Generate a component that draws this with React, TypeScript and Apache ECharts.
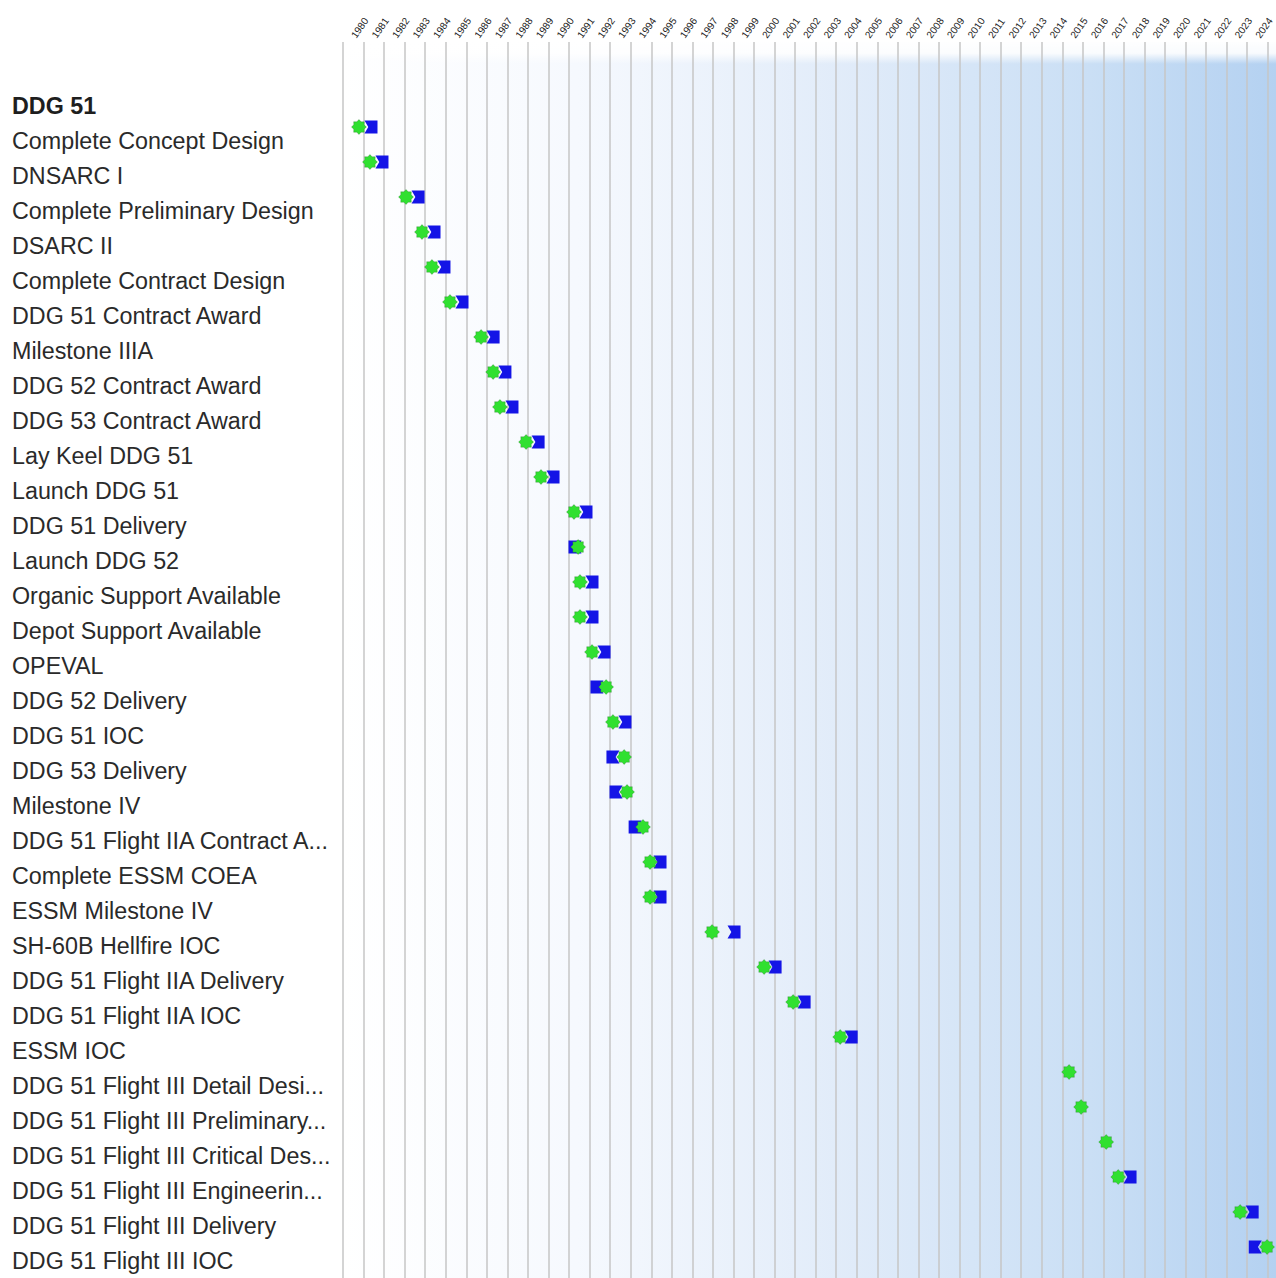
import React, { useEffect, useRef } from "react";
import * as echarts from "echarts";

const yearLabels = [
  "1980", "1981", "1982", "1983", "1984", "1985", "1986", "1987", "1988", "1989",
  "1990", "1991", "1992", "1993", "1994", "1995", "1996", "1997", "1998", "1999",
  "2000", "2001", "2002", "2003", "2004", "2005", "2006", "2007", "2008", "2009",
  "2010", "2011", "2012", "2013", "2014", "2015", "2016", "2017", "2018", "2019",
  "2020", "2021", "2022", "2023", "2024",
];

const programName = "DDG 51";

const milestones = [
  "Complete Concept Design",
  "DNSARC I",
  "Complete Preliminary Design",
  "DSARC II",
  "Complete Contract Design",
  "DDG 51 Contract Award",
  "Milestone IIIA",
  "DDG 52 Contract Award",
  "DDG 53 Contract Award",
  "Lay Keel DDG 51",
  "Launch DDG 51",
  "DDG 51 Delivery",
  "Launch DDG 52",
  "Organic Support Available",
  "Depot Support Available",
  "OPEVAL",
  "DDG 52 Delivery",
  "DDG 51 IOC",
  "DDG 53 Delivery",
  "Milestone IV",
  "DDG 51 Flight IIA Contract A...",
  "Complete ESSM COEA",
  "ESSM Milestone IV",
  "SH-60B Hellfire IOC",
  "DDG 51 Flight IIA Delivery",
  "DDG 51 Flight IIA IOC",
  "ESSM IOC",
  "DDG 51 Flight III Detail Desi...",
  "DDG 51 Flight III Preliminary...",
  "DDG 51 Flight III Critical Des...",
  "DDG 51 Flight III Engineerin...",
  "DDG 51 Flight III Delivery",
  "DDG 51 Flight III IOC",
];

// green markers (planned / threshold dates)
const plannedDates = [
  1980.77, 1981.3, 1983.04, 1983.81, 1984.29, 1985.16, 1986.66, 1987.24, 1987.57, 1988.83,
  1989.55, 1991.14, 1991.34, 1991.43, 1991.43, 1992.01, 1992.69, 1993.02, 1993.56, 1993.7,
  1994.47, 1994.81, 1994.81, 1997.8, 2000.31, 2001.71, 2003.98, 2015.02, 2015.6, 2016.81,
  2017.39, 2023.27, 2024.57,
];

// blue markers (actual / current estimate dates)
const actualDates: (number | null)[] = [
  1981.35, 1981.88, 1983.62, 1984.39, 1984.87, 1985.74, 1987.24, 1987.81, 1988.15, 1989.41,
  1990.13, 1991.72, 1991.19, 1992.01, 1992.01, 1992.59, 1992.25, 1993.6, 1993.02, 1993.17,
  1994.09, 1995.29, 1995.29, 1998.86, 2000.84, 2002.24, 2004.51, null, null, null,
  2017.96, 2023.85, 2024.0,
];

const GREEN_STAR =
  "path://M15,7.5 L12.67,9.64 L12.8,12.8 L9.64,12.67 L7.5,15 L5.36,12.67 L2.2,12.8 L2.33,9.64 L0,7.5 L2.33,5.36 L2.2,2.2 L5.36,2.33 L7.5,0 L9.64,2.33 L12.8,2.2 L12.67,5.36 Z";
const BLUE_NOTCH_LEFT = "path://M0,0 L12,0 L12,13 L0,13 L3.5,6.5 Z";
const BLUE_NOTCH_RIGHT = "path://M0,0 L12,0 L8.5,6.5 L12,13 L0,13 Z";

export default function App() {
  const ref = useRef<HTMLDivElement>(null);

  useEffect(() => {
    if (!ref.current) return;
    const chart = echarts.init(ref.current, null, { renderer: "svg" });

    const categories = [programName, ...milestones];

    const blueData: any[] = [];
    const greenData: any[] = [];
    milestones.forEach((m, i) => {
      greenData.push([plannedDates[i], m]);
      const a = actualDates[i];
      if (a !== null) {
        blueData.push({
          value: [a, m],
          symbol: plannedDates[i] <= a ? BLUE_NOTCH_LEFT : BLUE_NOTCH_RIGHT,
        });
      }
    });

    const plotLeft = 343;
    const rowH = 35;
    const rowsTop = 74.5;

    chart.setOption({
      animation: false,
      backgroundColor: "#ffffff",
      textStyle: { fontFamily: "Liberation Sans, Arial, sans-serif" },
      graphic: [
        {
          type: "rect",
          z: -10,
          silent: true,
          shape: { x: plotLeft, y: 42, width: 1276 - plotLeft, height: 1278 - 42 },
          style: {
            fill: new echarts.graphic.LinearGradient(0, 0, 1, 0, [
              { offset: 0, color: "#ffffff" },
              { offset: 0.25, color: "#f6f9fe" },
              { offset: 0.55, color: "#e0ebf9" },
              { offset: 0.8, color: "#cadff5" },
              { offset: 1, color: "#b4d1f1" },
            ]),
          },
        },
        {
          type: "rect",
          z: -9,
          silent: true,
          shape: { x: plotLeft, y: 40, width: 1276 - plotLeft, height: 24 },
          style: {
            fill: new echarts.graphic.LinearGradient(0, 0, 0, 1, [
              { offset: 0, color: "rgba(255,255,255,1)" },
              { offset: 0.55, color: "rgba(255,255,255,0.9)" },
              { offset: 1, color: "rgba(255,255,255,0)" },
            ]),
          },
        },
      ],
      grid: [
        { left: plotLeft, right: 0, top: 42, bottom: 0, containLabel: false },
        {
          left: plotLeft,
          right: 0,
          top: rowsTop,
          height: rowH * categories.length,
          containLabel: false,
        },
      ],
      xAxis: [
        {
          type: "category",
          gridIndex: 0,
          position: "top",
          data: yearLabels,
          boundaryGap: true,
          axisLine: { show: false },
          axisTick: { show: false },
          axisLabel: {
            interval: 0,
            rotate: 55,
            fontSize: 10,
            color: "#222222",
            margin: 5,
          },
          splitLine: {
            show: true,
            interval: 0,
            lineStyle: { color: "#c6c6c6", width: 1.5 },
          },
        },
        {
          type: "value",
          gridIndex: 1,
          min: 1980,
          max: 2025,
          show: false,
          splitLine: { show: false },
        },
      ],
      yAxis: [
        {
          type: "category",
          gridIndex: 1,
          data: categories,
          inverse: true,
          axisLine: { show: false },
          axisTick: { show: false },
          splitLine: { show: false },
          axisLabel: {
            interval: 0,
            align: "left",
            verticalAlign: "top",
            margin: plotLeft - 12,
            fontSize: 23.3,
            lineHeight: 28,
            color: "#2a2a2a",
            formatter: (v: string) => (v === programName ? `{b|${v}}` : v),
            rich: {
              b: {
                fontSize: 23.3,
                fontWeight: "bold",
                color: "#1e1e1e",
                lineHeight: 28,
              },
            },
          },
        },
        { type: "value", gridIndex: 0, show: false, splitLine: { show: false } },
      ],
      series: [
        {
          type: "scatter",
          name: "Actual",
          xAxisIndex: 1,
          yAxisIndex: 0,
          data: blueData,
          symbolSize: [13, 13],
          itemStyle: { color: "#1414e6", opacity: 1 },
          z: 3,
        },
        {
          type: "scatter",
          name: "Planned",
          xAxisIndex: 1,
          yAxisIndex: 0,
          data: greenData,
          symbol: GREEN_STAR,
          symbolSize: [15, 15],
          itemStyle: {
            color: "#30e030",
            borderColor: "rgba(40,90,40,0.45)",
            borderWidth: 0.6,
            opacity: 1,
          },
          z: 4,
        },
      ],
    });

    return () => chart.dispose();
  }, []);

  return (
    <div
      ref={ref}
      style={{ position: "fixed", left: 0, top: 0, width: "1276px", height: "1278px" }}
    />
  );
}
